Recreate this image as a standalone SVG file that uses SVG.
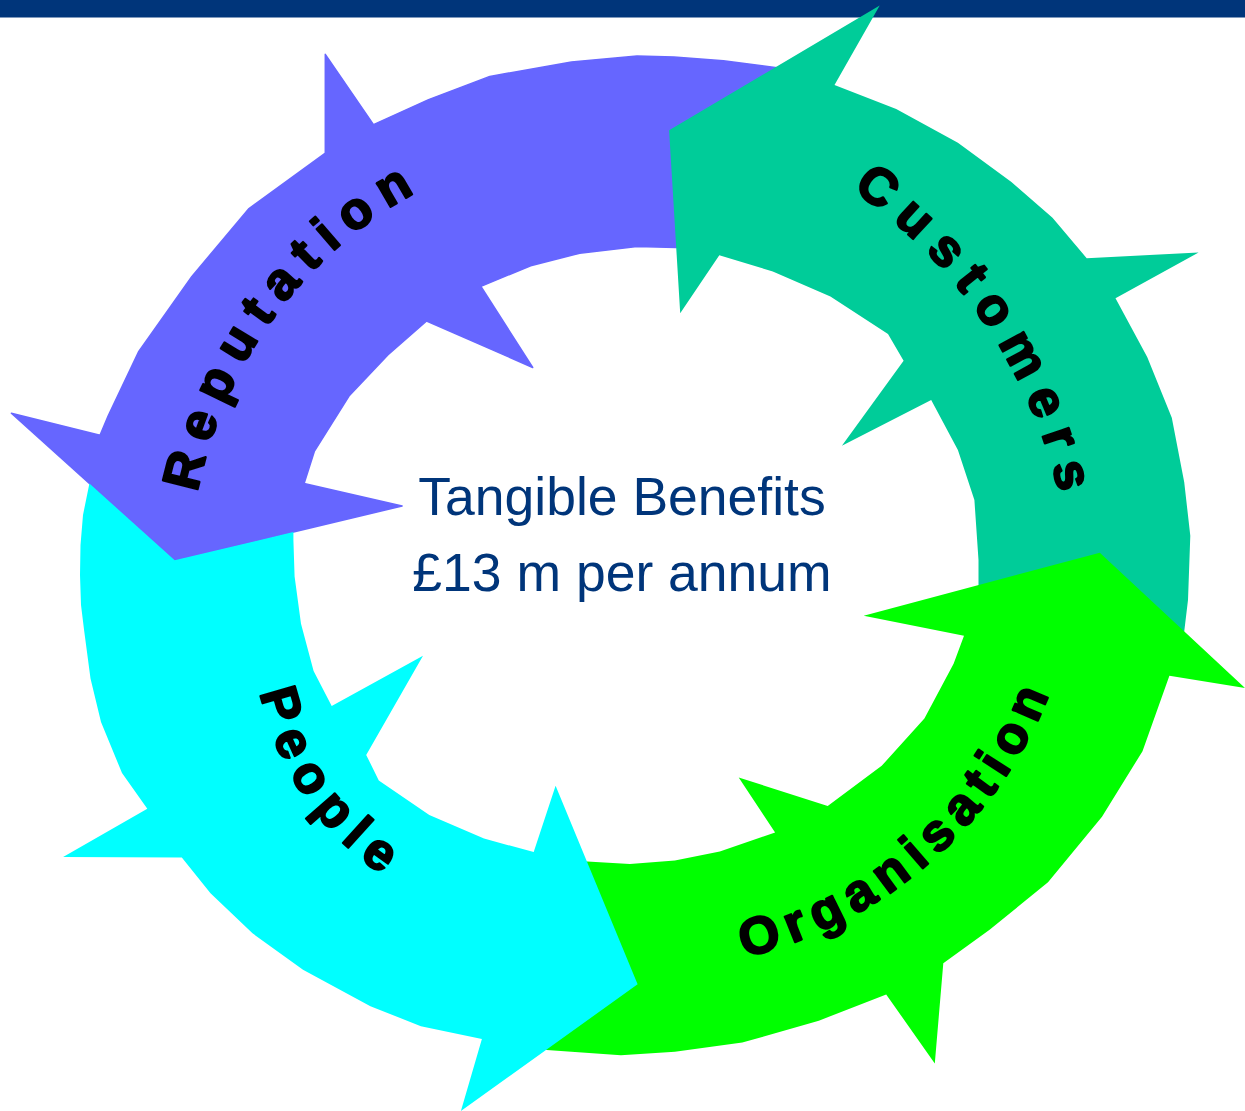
<svg xmlns="http://www.w3.org/2000/svg" width="1245" height="1111" viewBox="0 0 1245 1111">
<style>
.lbl{font-family:"Liberation Sans",Arial,sans-serif;font-weight:bold;font-size:52px;fill:#000;stroke:#000;stroke-width:2.2px;stroke-linejoin:round}
.ctr{font-family:"Liberation Sans",Arial,sans-serif;font-size:53.5px;fill:#00357a;text-anchor:middle}
</style>
<defs>
<path id="pRep" d="M197.5,492.5 A437.5,437.5 0 0 1 551.0,144.6"/>
<path id="pCus" d="M851.9,189.5 A510.2,510.2 0 0 1 1070.7,654.1"/>
<path id="pPeo" d="M260.3,692.6 A291.2,291.2 0 0 0 494.8,920.3"/>
<path id="pOrg" d="M744.6,957.4 A437.3,437.3 0 0 0 1080.4,532"/>
</defs>
<rect id="topbar" x="0" y="0" width="1245" height="17.5" fill="#00357a"/>
<g id="reputation">
<polygon fill="#6666ff" stroke="#6666ff" stroke-width="1.5" stroke-linejoin="round" points="805,75 715,245 676,247.5 637,246.4 579.7,253.2 530.7,265.7 480.9,286.4 532.7,367.5 426.6,321 387.8,355 349,396 314.3,451.4 304.1,483.5 402.1,506 174.7,560.3 11.4,413.2 100,435.3 108.2,415.7 138.8,351.4 191.9,276.4 249,208.6 325.3,153.2 325.3,54.3 373.5,124.6 428.6,99.6 489.8,76.4 571.5,62 637,56 674,57 723.4,60.7 777,67.8"/>
<text class="lbl" letter-spacing="12.3"><textPath href="#pRep">Reputation</textPath></text>
</g>
<g id="customers">
<polygon fill="#00cc99" points="834.5,85 879.7,5.4 669.1,130.3 680.2,313.2 719.3,255.3 772.8,271.4 830.4,296.4 888,333.9 903.6,360.7 841.9,445.7 931.2,400 957.9,450 974.4,500 978.5,560 978.5,600 1182,650 1188,600 1190.3,535.7 1184.2,482 1171.8,417.8 1147.2,357.1 1115.5,298.2 1198.6,252.5 1086.7,258.2 1052.5,217.8 1011.4,182.1 957.9,142.8 896.2,108.9"/>
<text class="lbl" letter-spacing="13"><textPath href="#pCus">Customers</textPath></text>
</g>
<g id="organisation">
<polygon fill="#00ff00" points="1099.8,552.7 1245,688 1169.4,675.8 1142.5,751.2 1102,816.8 1048,882.3 989.6,929.7 943.3,963.2 934.8,1063.4 886.2,994.5 818.8,1020.7 742.3,1042.6 674.9,1051.7 620.9,1055.3 546.7,1049.9 530,1045 565,858 587.2,861.6 629.9,864.1 674.9,860.5 719.8,851.4 775.1,832.5 738.7,777.5 827.7,805.9 881.7,765.8 924.4,718.5 953.6,663.8 964,635.8 863.7,615.8"/>
<text class="lbl" letter-spacing="8.8"><textPath href="#pOrg">Organisation</textPath></text>
</g>
<g id="people">
<polygon fill="#00ffff" points="89.4,483.5 83,515 80.5,545 80,575 81,605 84.2,631 90.5,678.4 101,722 122,773 147.3,808.8 63.1,856.9 181.8,857.6 210.5,893.3 252.5,933.3 303,969.8 370.4,1006.2 420.9,1026.2 481.9,1039 460.9,1111 637.6,984.3 555.6,785.8 533.7,852.1 484,838.6 429.3,815 378.8,780.4 366.2,754.9 423,655.8 331.7,706.1 313.6,671.1 301,623.8 294.6,576.4 293.4,540 293.4,532 174.7,560.3"/>
<text class="lbl" letter-spacing="10.8"><textPath href="#pPeo">People</textPath></text>
</g>
<g id="center">
<text class="ctr" x="622" y="515">Tangible Benefits</text>
<text class="ctr" x="622" y="591">£13 m per annum</text>
</g>
</svg>
